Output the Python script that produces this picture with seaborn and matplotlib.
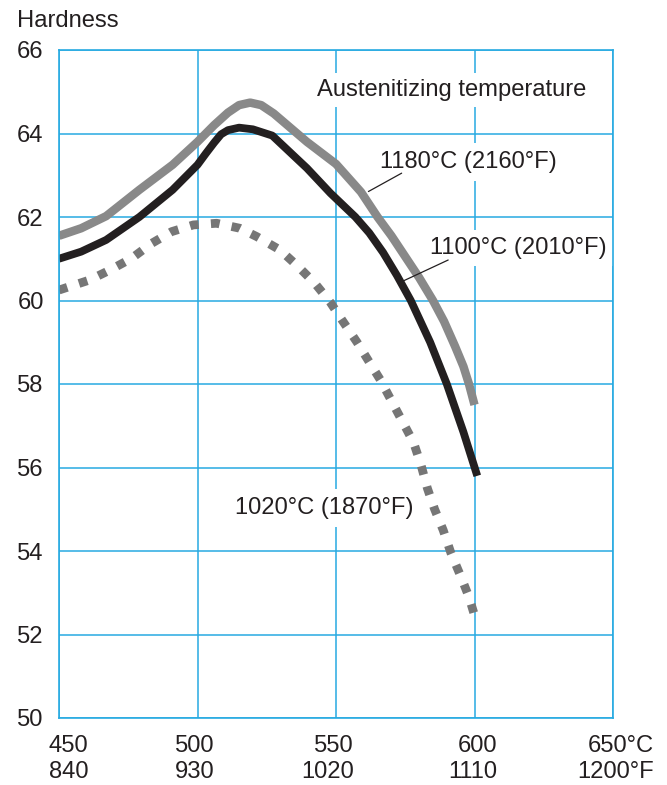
import matplotlib
matplotlib.use("Agg")
import matplotlib.pyplot as plt
from matplotlib.transforms import offset_copy
import numpy as np
import pandas as pd
import seaborn as sns

# ---------------- data ----------------
temp_1180 = [450, 458, 467, 479, 491, 500, 506, 511, 515, 519, 523, 527.5, 539.5, 550,
             559, 565, 570, 575, 580, 585, 589, 593, 596, 598, 600]
hard_1180 = [61.55, 61.73, 62.02, 62.65, 63.25, 63.8, 64.2, 64.5, 64.68, 64.74, 64.68, 64.48,
             63.8, 63.27, 62.6, 62.0, 61.55, 61.05, 60.55, 60.0, 59.5, 58.9, 58.42, 58.0, 57.5]

temp_1100 = [450, 458, 467, 479, 491, 500, 503, 506, 508.5, 511, 515, 520, 527, 539.5, 548,
             557, 562, 567, 572, 577, 584, 590, 596, 601]
hard_1100 = [61.0, 61.17, 61.45, 62.0, 62.65, 63.25, 63.52, 63.78, 63.98, 64.08, 64.14, 64.1,
             63.95, 63.17, 62.57, 62.0, 61.62, 61.15, 60.6, 60.0, 59.0, 58.0, 56.85, 55.8]

temp_1020 = [450, 461, 468.4, 476.2, 483.5, 490.7, 498.5, 506.9, 515.3, 521.4, 529.8, 536.4,
             542.4, 547.8, 552.5, 557.6, 561.6, 566, 570, 574, 578, 580.7, 583, 585.6,
             588.7, 591.5, 595, 598, 600.5]
hard_1020 = [60.25, 60.49, 60.73, 61.01, 61.37, 61.65, 61.81, 61.85, 61.73, 61.53, 61.21, 60.81,
             60.41, 59.97, 59.5, 59.0, 58.57, 58.1, 57.6, 57.1, 56.6, 56.06, 55.5, 55.0,
             54.5, 53.95, 53.4, 52.9, 52.35]

x_ticks_c = [450, 500, 550, 600, 650]
x_labels = ["450\n840", "500\n930", "550\n1020", "600\n1110", "650°C\n1200°F"]
y_ticks = [50, 52, 54, 56, 58, 60, 62, 64, 66]

series_labels = ["1180°C (2160°F)", "1100°C (2010°F)", "1020°C (1870°F)"]
title_note = "Austenitizing temperature"
y_title = "Hardness"

# ---------------- style ----------------
sns.set_style("white")
plt.rcParams["font.family"] = ["Liberation Sans", "DejaVu Sans"]

BLUE = "#27aae1"
TXT = "#231f20"
FS = 17.1

fig = plt.figure(figsize=(6.67, 7.85), dpi=100)
ax = fig.add_axes([59 / 667, 1 - 718 / 785, (613 - 59) / 667, (718 - 50) / 785])

df1 = pd.DataFrame({"t": temp_1180, "h": hard_1180})
df2 = pd.DataFrame({"t": temp_1100, "h": hard_1100})
df3 = pd.DataFrame({"t": temp_1020, "h": hard_1020})

sns.lineplot(data=df1, x="t", y="h", ax=ax, color="#898989", linewidth=6.1,
             estimator=None, sort=False, solid_capstyle="butt", solid_joinstyle="round", zorder=3)
sns.lineplot(data=df2, x="t", y="h", ax=ax, color=TXT, linewidth=5.6,
             estimator=None, sort=False, solid_capstyle="butt", solid_joinstyle="round", zorder=4)
sns.lineplot(data=df3, x="t", y="h", ax=ax, color="#767676", linewidth=6.3,
             estimator=None, sort=False, linestyle=(0, (1.0, 1.4)),
             dash_capstyle="butt", zorder=3)

ax.set_xlim(450, 650)
ax.set_ylim(50, 66)
ax.set_xlabel("")
ax.set_ylabel("")

ax.set_xticks(x_ticks_c)
ax.set_xticklabels([])
ax.set_yticks(y_ticks)
ax.set_yticklabels([str(v) for v in y_ticks], fontsize=FS, color=TXT)
ax.tick_params(axis="both", length=0)
ax.tick_params(axis="y", pad=11)

ax.set_axisbelow(True)
ax.grid(True, color=BLUE, linewidth=1.1)
for s in ax.spines.values():
    s.set_color(BLUE)
    s.set_linewidth(1.2)
    s.set_visible(True)
    s.set_zorder(8)

# x labels (two rows, right aligned per column)
x_off_px = [29, 17, 18, 23, 41]
for xv, lab, off in zip(x_ticks_c, x_labels, x_off_px):
    tr = offset_copy(ax.get_xaxis_transform(), fig=fig, x=off, y=0, units="dots")
    ax.text(xv, -(759 - 718) / 668, lab, transform=tr, ha="right", va="center",
            multialignment="right", fontsize=FS, color=TXT, linespacing=1.18, clip_on=False)

fig.text(17 / 667, 1 - 27 / 785, y_title, fontsize=FS, color=TXT, ha="left", va="baseline")

bbox = dict(boxstyle="square,pad=0.35", facecolor="white", edgecolor="none")
ax.text(543.1, 64.9, title_note, fontsize=FS, color=TXT, ha="left", va="baseline",
        bbox=dict(boxstyle="square,pad=0.25", facecolor="white", edgecolor="none"), zorder=5)
ax.text(565.9, 63.17, series_labels[0], fontsize=FS, color=TXT, ha="left", va="baseline",
        bbox=bbox, zorder=5)
ax.text(583.9, 61.11, series_labels[1], fontsize=FS, color=TXT, ha="left", va="baseline",
        bbox=dict(boxstyle="square,pad=0.3", facecolor="white", edgecolor="none"), zorder=5)
ax.text(513.5, 54.89, series_labels[2], fontsize=FS, color=TXT, ha="left", va="baseline",
        bbox=bbox, zorder=5)

# leader lines
ax.plot([573.7, 561.7], [63.05, 62.61], color=TXT, linewidth=0.9, zorder=6)
ax.plot([590.5, 573.7], [60.97, 60.45], color=TXT, linewidth=0.9, zorder=6)

fig.savefig("out.png", dpi=100)
